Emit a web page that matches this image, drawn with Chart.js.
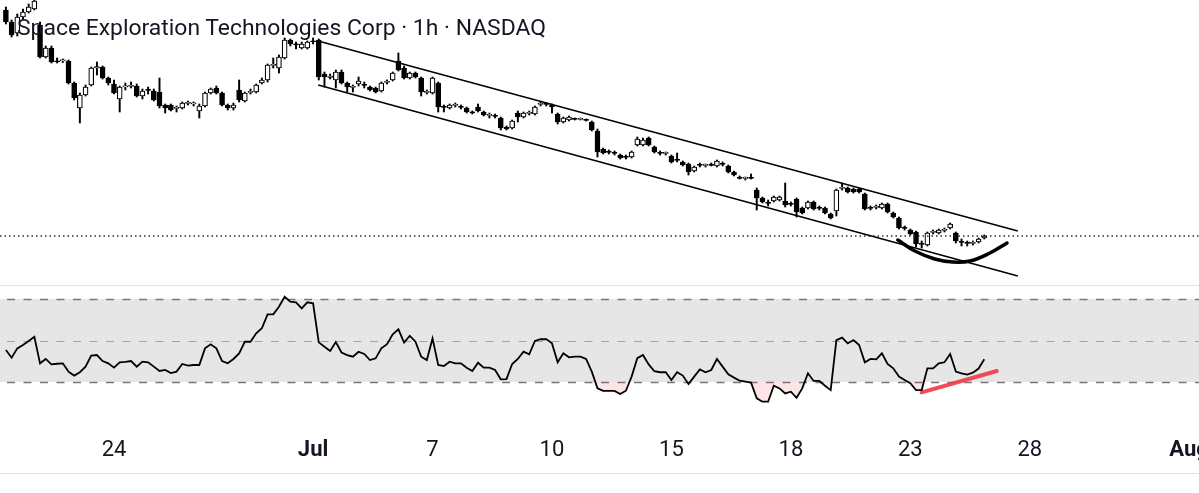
<!DOCTYPE html>
<html>
<head>
<meta charset="utf-8">
<script src="https://cdn.jsdelivr.net/npm/chart.js@4.4.1/dist/chart.umd.min.js"></script>
<style>
  html, body { margin: 0; padding: 0; background: #fff; }
  #wrap { position: relative; width: 1199px; height: 493px; overflow: hidden; }
  #price { position: absolute; left: 0; top: 0; }
  #rsi { position: absolute; left: 0; top: 286px; }
  .sep { position: absolute; left: 0; width: 1199px; height: 1px; background: #e0e3eb; }
  #title { position: absolute; left: 17px; top: 15.6px; font-family: Roboto, sans-serif; font-size: 22.9px;
           line-height: 23px; color: #131722; white-space: nowrap; }
</style>
</head>
<body>
<div id="wrap">
  <canvas id="price" width="1199" height="285"></canvas>
  <div class="sep" style="top:285px"></div>
  <canvas id="rsi" width="1199" height="187"></canvas>
  <div class="sep" style="top:473px"></div>
  <div id="title">Space Exploration Technologies Corp · 1h · NASDAQ</div>
</div>
<script>
// hourly candles, one entry per bar
var opens = [195,189,183.5,191.5,194,195.5,187.5,171.5,176,169.5,
  169.5,169.5,158.5,146,152.5,157.5,166,166.5,161,158,
  150.5,156.5,156.75,157,152,155,154.5,154,147.5,147.5,
  145.75,146,148.25,148,144.5,147,153.5,156,153.5,147.5,
  146,155,149.5,153.75,154,158.5,160,167.25,166,171,
  180,177.75,176,176,179.5,180,163,161.25,160,164,
  158.5,156.25,158,157.5,156.5,156,154.5,158.75,160,169.5,
  166,161,163.5,161,153.75,153.5,158.5,146.5,146,147.25,
  146.5,146,143.75,146.5,144,142.25,142,141,136.5,136,
  143.5,141.5,143.25,143,147.75,148,147.5,143,139,140,
  140.5,140.25,140,139,134.5,125.5,124,123.5,122.5,121.5,
  121.5,127.5,127.5,131,126.5,123.5,123.25,122,120,119,
  118,114.5,117.5,117.25,117.5,117,118,117,114,111,
  110.75,111,105,101,98.5,99.5,100,99.5,98,100.5,
  96,96,99,96,96,93,94.5,105.75,106,105.5,
  105.5,103,96,96.25,96,98,93.5,91,86,85,
  84,78,77.5,83.75,83.5,84.75,86,83.5,79,78.5,
  78.25,79,81];
var highs = [196.5,190,193,195.5,198,202,189,177,177,171,
  170.5,170,159,153.5,157.5,166.5,169,167,161.5,160,
  157,158.5,159,158,155.5,156.5,155.5,161,148,148,
  147,149,149.5,149,148,154,156,157,154,148,
  148.5,160,154,155.5,158,161,168,171,172.5,181,
  180.5,179,179,179.5,181,180.5,164,163,165,165,
  159,157.5,161.5,159,157,156.5,159,160,164,173.5,
  167,164,164,161.5,155,161.5,159,147.5,148,148.5,
  147.5,146.5,144.5,148,144.5,143.5,143,141.5,137,140,
  144.5,144,144.5,147,149,148.5,148,143.5,141.5,142,
  141,141,140.5,139.5,135.5,126,125,124.5,123,122.5,
  124.5,131.5,131,131.5,127,124.5,124,122.5,123.5,119.5,
  118.5,117,118.5,118,118.5,120,119,117.5,114.5,112,
  111.5,113,106,101.5,100,102,102,108.5,99,101,
  96.5,99.5,99.5,97,96.5,93.5,105.5,108.5,106.5,106,
  106,103.5,97,97.5,98.5,98.5,94,91.5,87,85.5,
  84.5,79.5,84,85,85.5,86,88.5,84,80.5,79.5,
  79.5,81,82.5];
var lows = [188,181.5,182,190.5,193.5,195,171,171,168.5,168.5,
  168.75,158,150,138.5,152,157,162.5,160.5,157.5,153,
  144,155,156,151.5,150.5,153,149.5,146,143.5,144.5,
  144,145.5,147.5,147,141,146.5,153,153,147,145,
  145,149,149,153,153.5,158,159,166,163.5,170.5,
  177,175.5,175.5,175.5,178,160,156.5,160.5,156,158,
  154,154,157,156,154.5,153.5,154,158,159.5,164.5,
  160.5,160.5,161,152,153,153,144,144,145.5,146.5,
  145.5,143.5,143,144,142,141,141,135,135,135.5,
  139,141,142.5,142.5,147,147,143.5,138,138.5,139.5,
  140,140,139.5,134.5,121.5,123,123,122.5,120.5,120.5,
  121,127,127,127,123.5,122.5,122.5,118.5,119,117,
  112.5,114,116.5,116.5,117,116.5,117,113.5,112,110.5,
  110,110.5,95,98.5,97,99,99.5,96.5,97,91.5,
  93,95.5,95,95,93,90.5,92,105,103.5,103.5,
  103.5,95,95,95.5,95.5,93.5,91,85.5,85,82.5,
  76.5,76,77,83,83,84,85.5,78.5,77,77,
  77.5,78.5,80.5];
var closes = [189,182.5,191.5,194,196.5,199.5,171.5,176,169,169,
  169.75,158.5,151,152.5,156.5,166,166.75,161,158.5,153.5,
  156.5,157,157,152,154.5,154.75,150,147,146,145,
  146,148.5,148.5,148.25,147,153.5,155.5,153.5,147.5,146,
  147.5,150,153.5,154,157.5,160,167.5,167.5,171.5,180,
  178,177.5,178,179,179,161.5,161.5,162,164,158.5,
  156.5,156.5,159.5,157.25,155,154,158.5,159,163.5,165,
  161,163.5,161.5,154,154,161,146.5,146.25,147.5,147.5,
  146.25,144,143.5,144.5,142.5,142.5,141.75,136,135.5,139.5,
  141.5,143.5,143.5,146.5,148,147.75,146.5,139,141,141.5,
  140.25,140.5,139.75,135,124,123.5,123.75,123.25,121,121.25,
  124,130.5,130,127.5,124,123.25,123.5,119,119.75,117.5,
  114,116.5,117.25,117.5,117.25,119.5,117.75,114,112.5,110.75,
  111,110.75,101,99,98.25,101.5,101.5,97.5,97.75,94,
  93.5,99,95.5,95.75,93.5,91,105,106,104,104,
  104,95.5,95.75,96.5,98,94,91.5,86,85.75,83,
  78,77.75,83.5,84,85,85,88,79.5,78.75,78.25,
  78.5,80.5,82];
var rsi = [45.4,41.7,46.2,47.8,49.8,51.8,39.0,41.1,38.5,38.8,
  39.0,35.0,33.1,34.7,37.4,42.7,43.0,40.1,39.0,36.9,
  39.5,39.7,40.1,37.4,39.8,39.5,37.4,35.3,35.8,34.3,
  35.0,38.7,37.9,38.2,38.2,46.2,48.2,46.2,40.1,39.0,
  41.1,43.8,49.4,49.4,53.5,55.9,62.6,62.6,66.3,71.1,
  68.7,68.4,65.5,68.4,67.9,49.1,47.0,45.0,49.3,44.2,
  43.0,42.2,44.6,43.5,40.6,41.4,46.2,48.2,53.0,55.4,
  49.0,52.3,49.4,42.2,40.6,51.0,38.2,37.7,39.8,39.0,
  39.0,36.9,35.3,39.3,36.9,36.9,35.8,31.3,31.4,38.7,
  41.1,44.6,43.3,49.8,50.6,50.7,48.6,39.5,43.8,41.9,
  42.2,42.2,41.1,35.0,27.0,25.7,25.7,25.7,24.2,25.8,
  32.6,41.5,43.0,38.5,35.2,34.7,34.7,31.0,34.7,33.1,
  29.0,32.6,36.1,34.7,35.8,41.1,37.4,33.7,32.1,30.6,
  30.2,29.7,22.1,20.5,20.5,28.2,26.9,24.5,25.3,22.4,
  26.9,34.2,30.5,30.5,28.2,26.1,50.2,51.4,48.6,50.2,
  47.8,39.5,41.1,40.9,43.8,38.7,36.6,32.6,31.0,29.4,
  26.1,26.1,36.6,36.6,39.0,39.5,43.5,35.0,34.2,33.6,
  34.5,36.5,41.0];

// day labels (bar index of first bar of the day)
var tickPos = [19, 54, 75, 96, 117, 138, 159, 180, 208];
var tickLabels = ['24', 'Jul', '7', '10', '15', '18', '23', '28', 'Aug'];

// drawings: channel, rounding bottom, rsi divergence
var chanUpper = [{x: 54.9, y: 179.5}, {x: 177.9, y: 84.5}];
var chanLower = [{x: 54.9, y: 157.5}, {x: 177.9, y: 62}];
var bowl = [{x: 156.8, y: 80}, {x: 159.8, y: 74.5}, {x: 163.3, y: 70.5}, {x: 166.5, y: 69},
            {x: 169.5, y: 69.5}, {x: 173.0, y: 73.5}, {x: 176.0, y: 78.5}];
var rsiDiv = [{x: 161.0, y: 25.0}, {x: 174.2, y: 35.3}];
var rsiLevels = [70, 50, 30];

var xMin = -1.04, xMax = 209.75;

var bodies = [], wicks = [], bodyColors = [], rsiPts = [];
for (var i = 0; i < closes.length; i++) {
  bodies.push({x: i, y: [opens[i], closes[i]]});
  wicks.push({x: i, y: [lows[i], highs[i]]});
  bodyColors.push(closes[i] >= opens[i] ? '#ffffff' : '#000000');
  rsiPts.push({x: i, y: rsi[i]});
}
var last = closes[closes.length - 1];

Chart.defaults.font.family = 'Roboto, sans-serif';

new Chart(document.getElementById('price'), {
  type: 'bar',
  data: {
    datasets: [
      {type: 'bar', data: wicks, backgroundColor: '#000', borderWidth: 0, barThickness: 1.3, grouped: false, order: 5},
      {type: 'bar', data: bodies, backgroundColor: bodyColors, borderColor: '#000', borderWidth: 1.2,
       borderSkipped: false, barThickness: 5, minBarLength: 1.2, grouped: false, order: 4},
      {type: 'line', data: [{x: xMin, y: last}, {x: xMax, y: last}], borderColor: '#2a2e39', borderWidth: 1.5,
       borderDash: [1.5, 3], pointRadius: 0, order: 3},
      {type: 'line', data: chanUpper, borderColor: '#000', borderWidth: 1.5, pointRadius: 0, order: 2},
      {type: 'line', data: chanLower, borderColor: '#000', borderWidth: 1.5, pointRadius: 0, order: 2},
      {type: 'line', data: bowl, borderColor: '#000', borderWidth: 3.5, pointRadius: 0, tension: 0.4,
       borderCapStyle: 'round', order: 1}
    ]
  },
  options: {
    responsive: false,
    animation: false,
    devicePixelRatio: 1,
    events: [],
    layout: {padding: 0},
    plugins: {legend: {display: false}, tooltip: {enabled: false}},
    scales: {
      x: {type: 'linear', min: xMin, max: xMax, offset: false, display: false},
      y: {min: 57.5, max: 200, display: false}
    }
  }
});

var bandPlugin = {
  id: 'band',
  beforeDatasetsDraw: function(chart) {
    var ctx = chart.ctx, y = chart.scales.y, a = chart.chartArea;
    var top = y.getPixelForValue(rsiLevels[0]), bot = y.getPixelForValue(rsiLevels[2]);
    ctx.save();
    ctx.fillStyle = '#e6e6e6';
    ctx.fillRect(a.left, top, a.right - a.left, bot - top);
    rsiLevels.forEach(function(v, k) {
      var py = Math.round(y.getPixelForValue(v)) + 0.5;
      ctx.beginPath();
      ctx.setLineDash([8, 8.5]);
      ctx.lineWidth = k === 1 ? 1 : 1.5;
      ctx.strokeStyle = k === 1 ? '#a3a3a3' : '#787878';
      ctx.moveTo(a.left + 7, py);
      ctx.lineTo(a.right, py);
      ctx.stroke();
    });
    ctx.restore();
  },
  afterDraw: function(chart) {
    var ctx = chart.ctx, x = chart.scales.x;
    ctx.save();
    ctx.fillStyle = '#131722';
    ctx.textAlign = 'center';
    ctx.textBaseline = 'alphabetic';
    tickPos.forEach(function(p, k) {
      var lbl = tickLabels[k];
      ctx.font = (isNaN(lbl) ? 'bold ' : '') + '22px Roboto, sans-serif';
      ctx.fillText(lbl, x.getPixelForValue(p), 170);
    });
    ctx.restore();
  }
};

new Chart(document.getElementById('rsi'), {
  type: 'line',
  data: {
    datasets: [
      {data: rsiPts, borderColor: '#000', borderWidth: 1.8, pointRadius: 0, tension: 0,
       fill: {target: {value: 30}, above: 'rgba(0,0,0,0)', below: 'rgba(242,54,69,0.13)'}},
      {data: rsiDiv, borderColor: 'rgba(242,54,69,0.9)', borderWidth: 4, pointRadius: 0,
       borderCapStyle: 'round', fill: false}
    ]
  },
  options: {
    responsive: false,
    animation: false,
    devicePixelRatio: 1,
    events: [],
    layout: {padding: {bottom: 50}},
    plugins: {legend: {display: false}, tooltip: {enabled: false}},
    scales: {
      x: {type: 'linear', min: xMin, max: xMax, offset: false, display: false},
      y: {min: 10.24, max: 76.27, display: false}
    }
  },
  plugins: [bandPlugin]
});
</script>
</body>
</html>
